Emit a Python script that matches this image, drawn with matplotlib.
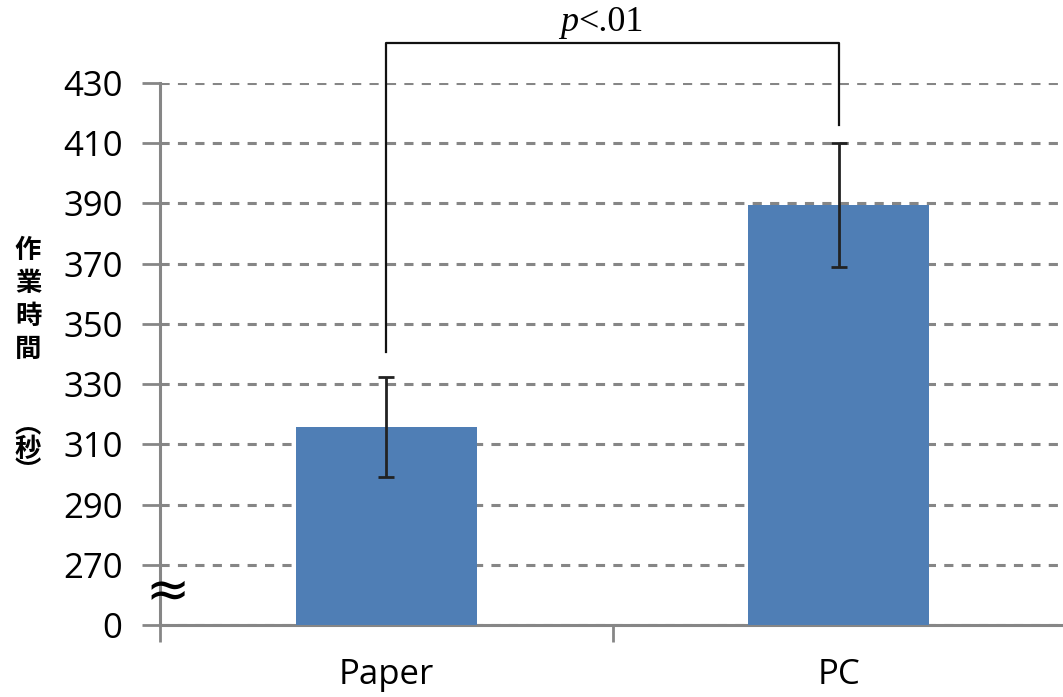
import matplotlib
matplotlib.use("Agg")
import matplotlib.pyplot as plt

categories = ["Paper", "PC"]
means = [315.8, 389.5]
errors = [16.5, 20.7]
ytick_values = [250, 270, 290, 310, 330, 350, 370, 390, 410, 430]
ytick_labels = ["0", "270", "290", "310", "330", "350", "370", "390", "410", "430"]
bracket_y = [340.7, 443.3, 443.3, 416.0]
sig_label = "p"
sig_rest = "<.01"
ylabel_main = "作\n業\n時\n間"
ylabel_unit = "︵\n秒\n︶"

W, H = 1063, 697
fig = plt.figure(figsize=(W / 100, H / 100), dpi=100)
ax = fig.add_axes([160 / W, (H - 625) / H, (1065 - 160) / W, (625 - 83) / H])

gray = "#868686"
x = list(range(len(categories)))
ax.bar(x, means, width=0.4, color="#4F7EB5", zorder=3, bottom=0)
ax.errorbar(x, means, yerr=errors, fmt="none", ecolor="#222222",
            elinewidth=2, capsize=6, capthick=2, zorder=4)

ax.set_xlim(-0.5, 1.5)
ax.set_ylim(250, 430)
ax.set_yticks(ytick_values)
ax.set_yticklabels(ytick_labels)
ax.set_xticks([-0.5, 0.5, 1.5])
ax.set_xticklabels([])
ax.set_xticks(x, minor=True)
ax.set_xticklabels(categories, minor=True)
ax.tick_params(axis="x", which="minor", length=0, pad=24, labelsize=25)
ax.tick_params(axis="x", which="major", length=12, width=2, color=gray, direction="out")
ax.tick_params(axis="y", length=13, width=2, color=gray, direction="out", pad=14, labelsize=25)
for lbl in ax.get_xticklabels(minor=True) + ax.get_yticklabels():
    lbl.set_family("Open Sans")

for s in ["top", "right"]:
    ax.spines[s].set_visible(False)
for s in ["left", "bottom"]:
    ax.spines[s].set_color(gray)
    ax.spines[s].set_linewidth(2.2)

ax.yaxis.grid(True, color=gray, linestyle=(0, (3, 2.7)), linewidth=2.2, zorder=0)
ax.set_axisbelow(True)

# significance bracket
ax.plot([0, 0, 1, 1], bracket_y, color="#111111", lw=1.6, clip_on=False, zorder=5)
ax.text(0.425, 444.5, sig_label, fontsize=26, family="Liberation Serif", style="italic",
        ha="right", va="bottom", transform=ax.transData)
ax.text(0.425, 444.5, sig_rest, fontsize=26, family="Liberation Serif",
        ha="left", va="bottom", transform=ax.transData)

# axis break mark
fig.text(168 / W, 1 - 592 / H, "≈", fontsize=38, ha="center", va="center",
         family="DejaVu Sans", color="black")

# vertical y label
cjk = ["Noto Sans CJK JP", "DejaVu Sans"]
fig.text(28 / W, 1 - 300 / H, ylabel_main, fontsize=19, fontweight="bold",
         family=cjk, ha="center", va="center", linespacing=1.3, multialignment="center")
fig.text(28 / W, 1 - 449 / H, ylabel_unit, fontsize=19, fontweight="bold",
         family=cjk, ha="center", va="center", linespacing=0.8, multialignment="center")

fig.savefig("out.png", dpi=100)
